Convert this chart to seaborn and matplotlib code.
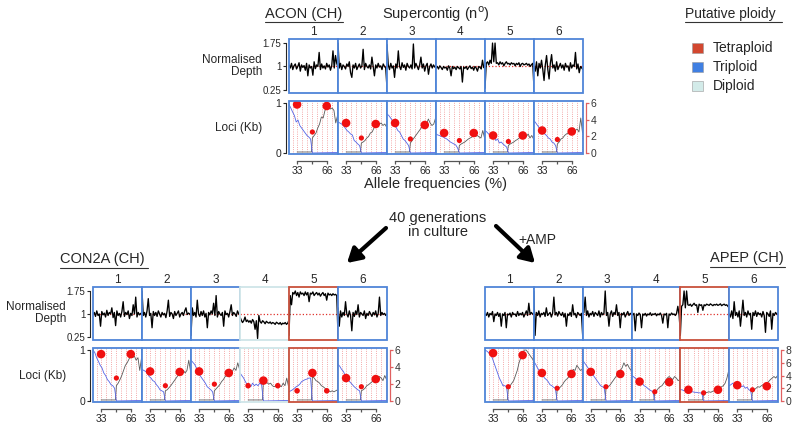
import matplotlib
matplotlib.use('Agg')
import matplotlib.pyplot as plt
from matplotlib.patches import Rectangle
import seaborn as sns

sns.set_style('ticks')
plt.rcParams['font.family'] = ['Liberation Sans', 'DejaVu Sans']

W, H = 797, 424

# ---- data ----
contigs = ['1', '2', '3', '4', '5', '6']
ploidy_names = ['Tetraploid', 'Triploid', 'Diploid']
ploidy_colors = {'Tetraploid': '#c8503c', 'Triploid': '#4f85d8', 'Diploid': '#cfe5e8'}
legend_fill = {'Tetraploid': '#d2472f', 'Triploid': '#3f7fe2', 'Diploid': '#d3ebe9'}

acon_ploidy = ['Triploid', 'Triploid', 'Triploid', 'Triploid', 'Triploid', 'Triploid']
con2a_ploidy = ['Triploid', 'Triploid', 'Triploid', 'Diploid', 'Tetraploid', 'Triploid']
apep_ploidy = ['Triploid', 'Triploid', 'Triploid', 'Triploid', 'Tetraploid', 'Triploid']

# normalised depth traces (one list per supercontig)
acon_depth = [
    [1.05, 0.95, 1.1, 0.9, 1.02, 1.08, 0.92, 1.0, 1.12, 0.85, 1.05, 0.97, 1.03, 0.88, 1.1, 0.7, 1.05, 0.95, 1.0, 0.72,
     1.15, 0.93, 1.05, 1.0, 1.45, 0.9, 1.08, 0.95, 1.02, 0.92, 1.1, 0.98, 1.05, 0.88, 1.02, 1.5, 0.95, 1.35, 1.1, 0.98],
    [1.75, 0.95, 1.1, 0.9, 1.05, 1.0, 0.92, 1.08, 1.0, 1.15, 0.8, 0.65, 1.05, 0.95, 1.1, 0.9, 1.0, 1.08, 0.95, 1.02,
     1.55, 0.9, 1.1, 1.0, 0.95, 1.05, 0.92, 1.3, 1.0, 0.7, 1.05, 0.95, 1.1, 0.98, 1.02, 0.9, 1.08, 1.0, 0.95, 0.3],
    [1.7, 1.05, 0.9, 1.1, 0.95, 1.02, 0.65, 1.08, 0.95, 1.5, 1.0, 0.9, 1.12, 0.97, 1.05, 0.88, 1.1, 1.0, 0.95, 1.05,
     0.92, 1.72, 0.95, 1.1, 1.0, 0.9, 1.05, 1.3, 0.95, 1.08, 0.85, 1.02, 1.1, 0.75, 1.0, 1.08, 0.95, 1.05, 0.98, 1.02],
    [0.95, 1.0, 0.92, 1.02, 0.97, 0.9, 1.0, 0.95, 0.98, 0.88, 1.02, 0.95, 0.7, 1.0, 0.93, 0.98, 0.9, 1.0, 0.96, 0.92,
     1.0, 0.5, 0.98, 0.94, 1.0, 0.9, 0.97, 1.02, 0.93, 0.98, 0.88, 1.0, 0.95, 0.85, 1.0, 0.97, 0.92, 1.2, 0.96, 1.0],
    [0.3, 1.1, 1.15, 1.05, 1.2, 1.1, 1.75, 1.15, 1.75, 1.1, 1.12, 1.05, 1.15, 1.08, 1.12, 1.02, 1.1, 1.15, 1.08, 1.1,
     1.05, 1.12, 1.08, 1.1, 1.02, 1.1, 1.06, 1.12, 1.0, 1.08, 1.1, 1.05, 1.07, 1.1, 1.04, 1.08, 1.0, 1.06, 1.1, 0.3],
    [1.0, 0.85, 1.15, 0.7, 1.1, 0.95, 1.2, 0.9, 0.55, 1.05, 1.35, 0.9, 0.6, 1.1, 1.38, 0.95, 1.05, 0.85, 1.15, 0.9,
     1.0, 1.1, 0.95, 1.05, 0.88, 1.1, 0.98, 1.02, 0.85, 1.12, 0.95, 1.05, 1.0, 1.45, 0.92, 1.08, 0.8, 1.0, 0.95, 0.9],
]
con2a_depth = [
    [1.0, 1.05, 0.92, 1.1, 0.95, 1.0, 0.6, 1.08, 0.97, 1.03, 0.9, 1.12, 0.95, 1.05, 1.0, 1.2, 0.88, 1.05, 0.62, 1.1,
     0.95, 1.02, 0.9, 1.08, 1.4, 0.92, 1.05, 0.98, 1.1, 0.85, 1.02, 0.95, 1.3, 1.0, 1.55, 0.9, 1.05, 0.97, 1.02, 1.0],
    [1.75, 0.95, 1.05, 0.9, 1.1, 1.5, 0.95, 1.02, 0.55, 1.08, 0.95, 1.05, 0.92, 1.1, 1.0, 0.9, 1.05, 0.97, 1.02, 0.88,
     1.1, 1.45, 0.92, 1.05, 1.0, 0.85, 1.08, 0.95, 1.02, 1.1, 0.9, 1.0, 1.05, 0.95, 1.1, 1.2, 0.98, 1.03, 1.0, 0.95],
    [0.3, 1.2, 0.95, 1.05, 0.9, 1.45, 1.0, 0.92, 1.08, 0.95, 1.1, 0.9, 1.02, 0.55, 1.05, 0.97, 1.1, 1.0, 1.35, 0.95,
     1.6, 0.9, 1.08, 1.0, 0.95, 1.05, 0.6, 1.1, 0.98, 1.02, 0.9, 1.08, 1.3, 0.95, 1.05, 1.0, 0.92, 1.1, 1.0, 0.98],
    [0.9, 0.8, 0.72, 0.78, 0.9, 0.75, 0.8, 0.73, 0.78, 0.7, 0.82, 0.75, 0.5, 0.78, 0.2, 0.95, 0.75, 0.7, 0.78, 0.74,
     0.68, 0.76, 0.72, 0.7, 0.74, 0.68, 0.72, 0.7, 0.66, 0.73, 0.7, 0.67, 0.72, 0.65, 0.7, 0.68, 0.72, 0.66, 0.7, 0.8],
    [0.3, 1.6, 1.3, 1.7, 1.65, 1.75, 1.6, 1.7, 1.55, 1.72, 1.65, 1.68, 1.6, 1.72, 1.62, 1.7, 1.4, 1.68, 1.65, 1.72,
     1.6, 1.66, 1.7, 1.62, 1.68, 1.58, 1.65, 1.7, 1.6, 1.66, 1.45, 1.68, 1.62, 1.65, 1.6, 1.66, 1.62, 1.64, 1.6, 0.3],
    [1.2, 0.6, 1.1, 0.9, 1.05, 0.95, 1.4, 1.0, 0.9, 1.1, 0.95, 0.45, 1.05, 0.92, 1.1, 0.98, 1.3, 0.9, 1.05, 1.0,
     0.95, 1.1, 0.85, 1.02, 0.95, 1.08, 1.0, 0.92, 1.05, 0.97, 1.1, 0.9, 1.02, 1.55, 0.95, 1.05, 0.98, 1.02, 0.95, 1.0],
]
apep_depth = [
    [1.0, 0.95, 1.05, 0.9, 1.02, 0.97, 1.08, 0.75, 1.0, 0.95, 1.05, 0.92, 1.02, 0.6, 1.0, 0.95, 1.05, 0.55, 1.0, 0.97,
     1.03, 0.9, 1.05, 0.98, 1.0, 0.92, 1.08, 0.95, 1.02, 0.97, 1.05, 0.9, 1.0, 1.1, 0.95, 1.35, 0.98, 1.05, 1.0, 0.98],
    [1.75, 0.3, 1.05, 0.95, 1.1, 0.9, 1.02, 0.98, 1.05, 0.92, 1.2, 0.95, 1.0, 1.05, 0.9, 1.02, 1.55, 0.97, 1.05, 0.93,
     1.08, 1.0, 0.95, 1.05, 0.9, 1.02, 0.6, 1.0, 0.95, 1.05, 0.92, 1.3, 0.97, 1.02, 0.88, 1.05, 1.0, 0.95, 1.02, 0.3],
    [1.0, 1.05, 1.55, 0.95, 1.1, 0.9, 1.02, 0.97, 1.08, 0.92, 1.05, 1.0, 0.95, 1.1, 0.9, 1.05, 0.97, 1.02, 1.75, 0.95,
     1.05, 0.6, 1.0, 1.1, 0.92, 1.05, 0.98, 1.3, 0.95, 1.05, 0.55, 1.02, 0.97, 1.05, 0.9, 1.0, 1.08, 0.95, 1.02, 1.0],
    [1.0, 0.97, 1.02, 0.45, 1.0, 0.95, 1.03, 0.98, 0.55, 1.0, 0.96, 1.02, 0.93, 1.0, 0.97, 1.04, 0.95, 1.0, 0.98, 1.02,
     0.94, 1.0, 0.97, 1.03, 0.95, 0.7, 1.0, 0.97, 1.02, 0.55, 1.0, 0.96, 1.03, 0.98, 1.0, 0.95, 1.02, 1.25, 0.97, 0.4],
    [0.3, 1.25, 1.3, 1.75, 1.2, 1.75, 1.3, 1.28, 1.32, 1.25, 1.3, 1.35, 1.28, 1.3, 1.05, 1.32, 1.28, 1.3, 1.12, 1.3,
     1.27, 1.32, 1.3, 1.28, 1.33, 1.3, 1.27, 1.31, 1.29, 1.32, 1.28, 1.3, 1.33, 1.27, 1.3, 1.32, 1.28, 1.3, 1.25, 1.2],
    [1.0, 0.9, 1.1, 0.85, 1.4, 0.95, 1.05, 0.9, 1.1, 0.6, 1.0, 1.45, 0.95, 1.05, 0.9, 1.1, 0.97, 1.02, 0.5, 1.05,
     0.95, 1.1, 0.92, 1.05, 0.98, 1.02, 0.9, 1.08, 0.95, 0.4, 1.05, 1.0, 0.92, 1.1, 0.5, 1.02, 0.95, 1.05, 1.0, 0.98],
]

# allele frequency histograms (fraction of max), blue = left half, gray = right half
blue_freq = [24, 26, 28, 30, 32, 34, 36, 38, 40, 42, 44, 46, 48, 50, 78]
gray_freq = [33, 49, 50, 52, 54, 56, 58, 60, 62, 64, 66, 68, 70, 72, 74, 76, 78]
blue_floor = [0.0, 0.01]
gray_floor = [0.02, 0.02]
dot_freq = [33, 50, 66]
grid_freq = [28, 33, 39, 44, 50, 55, 61, 66, 72, 77]

acon_blue = [
    [0.97, 0.9, 0.82, 0.75, 0.62, 0.66, 0.55, 0.5, 0.45, 0.4, 0.35, 0.32, 0.28],
    [0.62, 0.6, 0.58, 0.55, 0.5, 0.45, 0.42, 0.38, 0.36, 0.25, 0.22, 0.18, 0.15],
    [0.78, 0.75, 0.7, 0.65, 0.6, 0.52, 0.45, 0.42, 0.35, 0.28, 0.25, 0.2, 0.15],
    [0.38, 0.36, 0.35, 0.33, 0.32, 0.3, 0.28, 0.25, 0.22, 0.2, 0.18, 0.16, 0.1],
    [0.45, 0.42, 0.38, 0.35, 0.3, 0.32, 0.25, 0.28, 0.2, 0.22, 0.18, 0.15, 0.12],
    [0.65, 0.6, 0.55, 0.5, 0.45, 0.42, 0.38, 0.35, 0.3, 0.28, 0.22, 0.2, 0.15],
]
acon_gray = [
    [0.3, 0.35, 0.4, 0.5, 0.58, 0.72, 0.7, 0.85, 0.9, 0.95, 0.88, 0.9, 0.85, 0.6, 0.75],
    [0.2, 0.22, 0.25, 0.3, 0.33, 0.4, 0.42, 0.5, 0.55, 0.6, 0.58, 0.6, 0.55, 0.58, 0.52],
    [0.2, 0.25, 0.3, 0.35, 0.4, 0.45, 0.5, 0.55, 0.6, 0.58, 0.68, 0.6, 0.55, 0.58, 0.7],
    [0.15, 0.18, 0.2, 0.22, 0.25, 0.28, 0.3, 0.32, 0.35, 0.33, 0.35, 0.32, 0.3, 0.45, 0.3],
    [0.15, 0.18, 0.2, 0.22, 0.25, 0.27, 0.3, 0.32, 0.35, 0.3, 0.33, 0.38, 0.3, 0.35, 0.28],
    [0.18, 0.22, 0.28, 0.3, 0.35, 0.38, 0.4, 0.45, 0.42, 0.5, 0.45, 0.48, 0.42, 0.7, 0.4],
]
acon_dots = [[0.97, 0.42, 0.94], [0.6, 0.3, 0.58], [0.6, 0.28, 0.56],
             [0.4, 0.25, 0.4], [0.35, 0.23, 0.35], [0.45, 0.27, 0.43]]
acon_big = ['ends', 'ends', 'ends', 'ends', 'ends', 'ends']

con2a_blue = [
    [1.0, 0.95, 0.85, 0.78, 0.7, 0.65, 0.55, 0.5, 0.42, 0.38, 0.32, 0.3, 0.25],
    [0.62, 0.6, 0.58, 0.55, 0.48, 0.45, 0.4, 0.38, 0.32, 0.28, 0.22, 0.2, 0.18],
    [0.8, 0.76, 0.72, 0.65, 0.58, 0.5, 0.45, 0.4, 0.35, 0.28, 0.25, 0.22, 0.18],
    [0.55, 0.5, 0.45, 0.38, 0.32, 0.3, 0.28, 0.35, 0.3, 0.33, 0.3, 0.35, 0.32],
    [0.18, 0.2, 0.22, 0.25, 0.28, 0.3, 0.33, 0.38, 0.4, 0.42, 0.43, 0.45, 0.45],
    [0.72, 0.68, 0.62, 0.58, 0.5, 0.45, 0.4, 0.36, 0.32, 0.28, 0.25, 0.22, 0.2],
]
con2a_gray = [
    [0.3, 0.35, 0.42, 0.5, 0.6, 0.7, 0.75, 0.82, 0.9, 0.85, 0.88, 0.8, 0.85, 0.6, 0.85],
    [0.2, 0.22, 0.26, 0.3, 0.35, 0.4, 0.45, 0.5, 0.55, 0.58, 0.6, 0.55, 0.6, 0.8, 0.58],
    [0.2, 0.24, 0.28, 0.32, 0.38, 0.42, 0.48, 0.5, 0.55, 0.6, 0.58, 0.65, 0.6, 0.75, 0.62],
    [0.38, 0.35, 0.36, 0.33, 0.35, 0.3, 0.28, 0.3, 0.32, 0.3, 0.28, 0.35, 0.3, 0.45, 0.28],
    [0.48, 0.45, 0.4, 0.38, 0.35, 0.3, 0.28, 0.25, 0.22, 0.2, 0.18, 0.2, 0.18, 0.2, 0.22],
    [0.2, 0.22, 0.25, 0.3, 0.32, 0.35, 0.38, 0.42, 0.45, 0.42, 0.48, 0.45, 0.4, 0.5, 0.42],
]
con2a_dots = [[0.92, 0.45, 0.92], [0.58, 0.3, 0.57], [0.58, 0.33, 0.55],
              [0.3, 0.4, 0.3], [0.2, 0.55, 0.2], [0.45, 0.28, 0.43]]
con2a_big = ['ends', 'ends', 'ends', 'middle', 'middle', 'ends']

apep_blue = [
    [1.0, 0.98, 0.95, 0.9, 0.85, 0.75, 0.65, 0.55, 0.45, 0.38, 0.3, 0.3, 0.28],
    [0.78, 0.72, 0.65, 0.6, 0.55, 0.5, 0.45, 0.42, 0.38, 0.32, 0.3, 0.27, 0.25],
    [0.8, 0.75, 0.7, 0.65, 0.58, 0.55, 0.5, 0.45, 0.4, 0.35, 0.3, 0.28, 0.26],
    [0.5, 0.48, 0.45, 0.42, 0.4, 0.38, 0.35, 0.3, 0.28, 0.25, 0.22, 0.2, 0.18],
    [0.22, 0.22, 0.2, 0.21, 0.2, 0.19, 0.18, 0.18, 0.17, 0.17, 0.16, 0.16, 0.15],
    [0.3, 0.32, 0.35, 0.3, 0.33, 0.36, 0.3, 0.28, 0.3, 0.25, 0.27, 0.22, 0.2],
]
apep_gray = [
    [0.25, 0.3, 0.35, 0.4, 0.5, 0.6, 0.75, 0.85, 0.95, 1.0, 1.0, 0.95, 0.9, 0.85, 0.8],
    [0.22, 0.25, 0.28, 0.32, 0.38, 0.42, 0.45, 0.5, 0.55, 0.62, 0.6, 0.7, 0.65, 0.6, 0.62],
    [0.25, 0.28, 0.3, 0.35, 0.4, 0.45, 0.5, 0.55, 0.6, 0.65, 0.75, 0.68, 0.72, 0.65, 0.6],
    [0.18, 0.2, 0.25, 0.28, 0.3, 0.35, 0.4, 0.45, 0.48, 0.45, 0.42, 0.48, 0.45, 0.4, 0.42],
    [0.15, 0.16, 0.17, 0.18, 0.17, 0.19, 0.2, 0.22, 0.22, 0.25, 0.28, 0.3, 0.35, 0.45, 0.6],
    [0.2, 0.22, 0.25, 0.28, 0.27, 0.3, 0.32, 0.3, 0.35, 0.38, 0.42, 0.45, 0.48, 0.45, 0.5],
]
apep_dots = [[0.94, 0.28, 0.9], [0.55, 0.25, 0.53], [0.57, 0.28, 0.53],
             [0.38, 0.18, 0.37], [0.22, 0.16, 0.22], [0.31, 0.22, 0.29]]
apep_big = ['ends', 'ends', 'ends', 'ends', 'ends', 'ends']


def rect(xa, ya, xb, yb):
    return [xa / W, 1 - yb / H, (xb - xa) / W, (yb - ya) / H]


fig = plt.figure(figsize=(W / 100, H / 100), dpi=100)


def frame(ax, color):
    ax.add_patch(Rectangle((0, 0), 1, 1, transform=ax.transAxes, fill=False,
                           ec=color, lw=1.3, clip_on=False, zorder=6))


def draw_group(x0, x1, yd, yl, depth, blue, gray, dots, big, ploidy, kb_max, show_left):
    w = (x1 - x0) / 6
    for i in range(6):
        cx = x0 + i * w
        col = ploidy_colors[ploidy[i]]

        # depth panel
        axd = fig.add_axes(rect(cx, yd[0], cx + w, yd[1]))
        axd.axhline(1, color='#e0302a', ls=':', lw=0.9, zorder=1)
        sns.lineplot(x=list(range(len(depth[i]))), y=depth[i], ax=axd, color='black',
                     lw=0.95, estimator=None, zorder=2)
        axd.set_xlim(0, len(depth[i]) - 1)
        axd.set_ylim(0.15, 1.88)
        axd.set_xticks([])
        axd.set_title(contigs[i], fontsize=8.5, pad=3)
        for s in axd.spines.values():
            s.set_visible(False)
        frame(axd, col)
        if i == 0 and show_left:
            axd.spines['left'].set_visible(True)
            axd.spines['left'].set_position(('outward', 2))
            axd.spines['left'].set_bounds(0.25, 1.75)
            axd.spines['left'].set_linewidth(0.8)
            axd.set_yticks([0.25, 1, 1.75], ['0.25', '1', '1.75'])
            axd.tick_params(axis='y', labelsize=7, length=2.5, width=0.8, pad=1)
        else:
            axd.set_yticks([])

        # loci panel
        axl = fig.add_axes(rect(cx, yl[0], cx + w, yl[1]))
        for g in grid_freq:
            axl.axvline(g, color='#f08a8a', ls=':', lw=0.6, zorder=1)
        sns.lineplot(x=gray_freq, y=gray_floor + gray[i], ax=axl, color='#5a5a5a',
                     lw=0.6, estimator=None, zorder=2)
        sns.lineplot(x=blue_freq, y=blue[i] + blue_floor, ax=axl, color='#5565e6',
                     lw=0.6, estimator=None, zorder=3)
        s_end, s_mid = (38, 14) if big[i] == 'ends' else (16, 38)
        sns.scatterplot(x=[dot_freq[0], dot_freq[2]], y=[dots[i][0], dots[i][2]], ax=axl,
                        color='#f01010', s=s_end, edgecolor='none', zorder=4)
        sns.scatterplot(x=[dot_freq[1]], y=[dots[i][1]], ax=axl, color='#f01010',
                        s=s_mid, edgecolor='none', zorder=4)
        axl.set_xlim(24, 78.5)
        axl.set_ylim(-0.02, 1.04)
        for s in axl.spines.values():
            s.set_visible(False)
        frame(axl, col)
        sp = axl.spines['bottom']
        sp.set_visible(True)
        sp.set_position(('outward', 5))
        sp.set_bounds(33, 66)
        sp.set_color('#555555')
        sp.set_linewidth(0.9)
        axl.set_xticks([33, 50, 66], ['33', '', '66'])
        axl.tick_params(axis='x', labelsize=7.5, length=2.5, width=0.9, color='#555555', pad=1.5)
        if i == 0 and show_left:
            axl.spines['left'].set_visible(True)
            axl.spines['left'].set_position(('outward', 2))
            axl.spines['left'].set_bounds(0, 1)
            axl.spines['left'].set_linewidth(0.8)
            axl.set_yticks([0, 1], ['0', '1'])
            axl.tick_params(axis='y', labelsize=7.5, length=2.5, width=0.8, pad=1)
        else:
            axl.set_yticks([])
        if i == 5:
            axr = axl.twinx()
            for s in axr.spines.values():
                s.set_visible(False)
            axr.set_ylim(-0.02 * kb_max, 1.04 * kb_max)
            axr.spines['right'].set_visible(True)
            axr.spines['right'].set_position(('outward', 2))
            axr.spines['right'].set_bounds(0, kb_max)
            axr.spines['right'].set_color('#e06060')
            axr.spines['right'].set_linewidth(0.9)
            axr.set_yticks(list(range(0, kb_max + 1, 2)))
            axr.tick_params(axis='y', labelsize=7.5, length=2.5, width=0.9,
                            color='#e06060', labelcolor='#333333', pad=1)


draw_group(289, 583, (39, 93), (101, 154), acon_depth, acon_blue, acon_gray, acon_dots,
           acon_big, acon_ploidy, 6, True)
draw_group(93, 387, (287, 340), (348, 402), con2a_depth, con2a_blue, con2a_gray, con2a_dots,
           con2a_big, con2a_ploidy, 6, True)
draw_group(485, 778, (287, 340), (348, 402), apep_depth, apep_blue, apep_gray, apep_dots,
           apep_big, apep_ploidy, 8, False)

# overlay for annotations
ov = fig.add_axes([0, 0, 1, 1])
ov.set_xlim(0, W)
ov.set_ylim(H, 0)
ov.axis('off')
ov.patch.set_alpha(0)

ov.text(265, 14, 'ACON (CH)', fontsize=10.5, va='center', ha='left')
ov.plot([265, 343], [22, 22], color='#333333', lw=0.8)
ov.text(436, 14, 'Supercontig (n$^{\\mathrm{o}}$)', fontsize=10.5, va='center', ha='center')
ov.text(436, 184, 'Allele frequencies (%)', fontsize=10.5, va='center', ha='center')

ov.text(60, 259, 'CON2A (CH)', fontsize=10.5, va='center', ha='left')
ov.plot([60, 148], [268, 268], color='#333333', lw=0.8)
ov.text(710, 258, 'APEP (CH)', fontsize=10.5, va='center', ha='left')
ov.plot([710, 785], [267, 267], color='#333333', lw=0.8)

for (xr, yd_c, yl_c) in [(262, 66, 128), (66, 313, 376)]:
    ov.text(xr, yd_c, 'Normalised\nDepth', fontsize=8.5, va='center', ha='right',
            multialignment='right', linespacing=1.05)
    ov.text(xr, yl_c, 'Loci (Kb)', fontsize=8.5, va='center', ha='right')

# legend
ov.text(685, 14, 'Putative ploidy', fontsize=10, va='center', ha='left')
ov.plot([685, 782], [22, 22], color='#333333', lw=0.8)
for name, yc in zip(ploidy_names, [48, 67, 86]):
    ov.add_patch(Rectangle((692, yc - 5), 11, 10, facecolor=legend_fill[name],
                           edgecolor='#9a9a9a', lw=0.4))
    ov.text(713, yc, name, fontsize=10, va='center', ha='left')

# centre text and arrows
ov.text(438, 225, '40 generations\nin culture', fontsize=10.5, va='center', ha='center',
        linespacing=1.0)
ov.text(537, 240, '+AMP', fontsize=10, va='center', ha='center')
arrow = dict(arrowstyle='-|>,head_length=0.6,head_width=0.35', lw=3, color='black',
             mutation_scale=14, shrinkA=0, shrinkB=0)
ov.annotate('', xy=(347, 263), xytext=(386, 228), arrowprops=arrow)
ov.annotate('', xy=(535, 263), xytext=(496, 226), arrowprops=arrow)

fig.savefig('out.png', dpi=100)
